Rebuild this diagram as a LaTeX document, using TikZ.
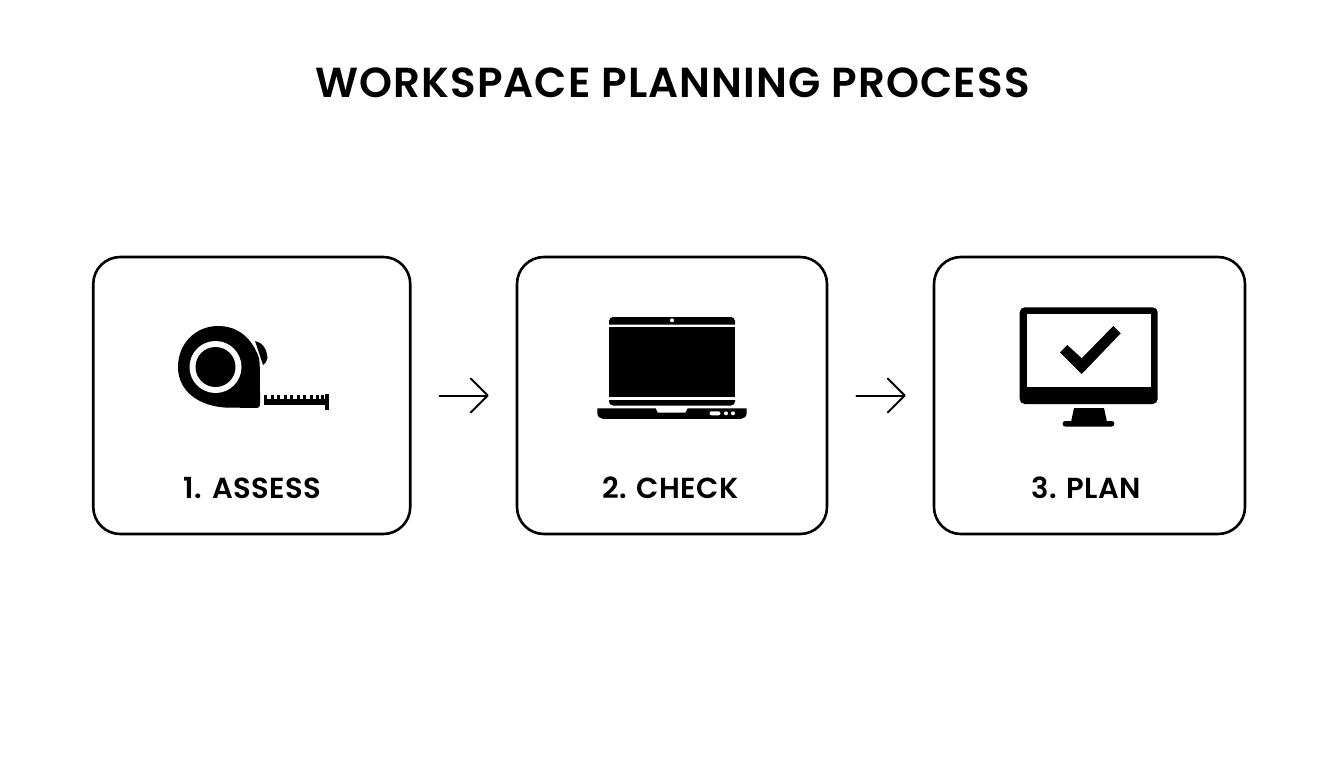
\documentclass[tikz,border=0pt]{standalone}
\usepackage{fontspec}
\setmainfont{Poppins}
\newfontfamily\titlefont{Poppins SemiBold}[LetterSpace=2.6]
\newfontfamily\labelfont{Poppins SemiBold}[LetterSpace=1.5]
\usetikzlibrary{arrows.meta}
\tikzset{
  stepbox/.style={draw=black,line width=2.6pt,rounded corners=27pt,minimum height=277pt,inner sep=0pt},
  conn/.style={line width=2pt,line cap=round,line join=round,-{Straight Barb[length=17pt,width=34pt,line width=2pt,round]},shorten <=28pt,shorten >=27pt},
  steplabel/.style={font=\fontsize{29}{30}\selectfont\labelfont,inner sep=0pt,text=black},
  titlelabel/.style={font=\fontsize{42}{44}\selectfont\titlefont,inner sep=0pt,text=black},
  ink/.style={fill=black,draw=none}
}
\begin{document}
\begin{tikzpicture}[x=1pt,y=-1pt]
\useasboundingbox (0,0) rectangle (1344,768);
\fill[white] (0,0) rectangle (1344,768);
\node[titlelabel] (title) at (672.5,83) {WORKSPACE PLANNING PROCESS};
\node[stepbox,minimum width=317pt] (box1) at (251.75,395.5) {};
\node[stepbox,minimum width=310pt] (box2) at (672,395.5) {};
\node[stepbox,minimum width=311pt] (box3) at (1089.5,395.5) {};
\node[steplabel] (l1) at (252.5,488) {1. ASSESS};
\node[steplabel] (l2) at (670.5,488) {2. CHECK};
\node[steplabel] (l3) at (1086,488) {3. PLAN};
\draw[conn] (box1.east) -- (box2.west);
\draw[conn] (box2.east) -- (box3.west);
% tape measure
\fill[ink] (255,341) .. controls (262,342) and (267,349) .. (267.5,358) .. controls (267,361) and (265,364) .. (263,365) -- cycle;
\fill[ink] (218,326) .. controls (238,326) and (252,338) .. (259,358) .. controls (260,364) and (260,372) .. (260,403) .. controls (260,407) and (259,408) .. (255,408) -- (225,407.5) .. controls (200,406) and (178,392) .. (178,367) .. controls (178,343) and (196,326) .. (218,326) -- cycle;
\fill[white] (215.5,367) circle[radius=26];
\fill[ink] (215.5,367) circle[radius=20];
\fill[ink] (263.5,399) rectangle (325,405);
\foreach \x in {264,270.5,277,283.5,290,296.5,303,309.5,316,321}{\fill[ink] (\x,394.5) rectangle (\x+3,400);}
\fill[ink] (324.5,394) rectangle (328.5,410);
% laptop
\fill[ink] (609,324.5) -- (609,321) arc[start angle=180,end angle=90,radius=4,y radius=-4] -- (731,317) arc[start angle=90,end angle=0,radius=4,y radius=-4] -- (735,324.5) -- cycle;
\fill[white] (672,320.3) circle[radius=2];
\fill[ink] (609,326.7) rectangle (735,397.3);
\fill[ink] (609,400) -- (735,400) -- (735,401.5) arc[start angle=0,end angle=-90,radius=4,y radius=-4] -- (613,405.5) arc[start angle=270,end angle=180,radius=4,y radius=-4] -- cycle;
\fill[ink] (597.3,408.3) -- (655.7,408.3) -- (657.5,412.5) -- (685.5,412.5) -- (687.7,408.3) -- (746.7,408.3) -- (746.7,413) .. controls (746.7,416.5) and (744,418.8) .. (741,418.8) -- (603,418.8) .. controls (600,418.8) and (597.3,416.5) .. (597.3,413) -- cycle;
\fill[white,rounded corners=2pt] (709.5,411.3) rectangle (720.5,415.3);
\fill[white] (726,413.3) circle[radius=2];
\fill[white] (733,413.3) circle[radius=2];
% monitor
\fill[ink,rounded corners=5pt] (1019.7,307.3) rectangle (1157.7,404);
\fill[white] (1026.7,314.3) rectangle (1151,387.3);
\fill[ink] (1060,352.3) -- (1067.3,345) -- (1081.7,358.3) -- (1113.3,326) -- (1120.7,333.3) -- (1081.7,374) -- cycle;
\fill[ink] (1074,408) -- (1104,408) -- (1107,422) -- (1071,422) -- cycle;
\fill[ink,rounded corners=2.5pt] (1062.7,421) rectangle (1114.3,426.5);
\end{tikzpicture}
\end{document}
